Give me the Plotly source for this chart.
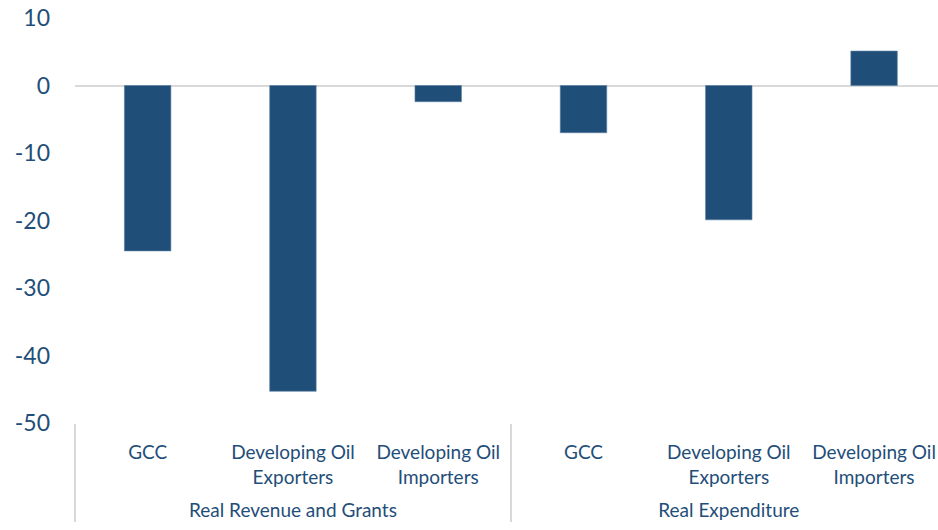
import plotly.graph_objects as go

# Data
groups = ["<br>Real Revenue and Grants"] * 3 + ["<br>Real Expenditure"] * 3
categories = [
    "GCC", "Developing Oil<br>Exporters", "Developing Oil<br>Importers",
    "GCC", "Developing Oil<br>Exporters", "Developing Oil<br>Importers",
]
values = [-24.5, -45.3, -2.4, -7.0, -19.9, 5.1]
y_ticks = [10, 0, -10, -20, -30, -40, -50]
y_tick_labels = ["10", "0", "-10", "-20", "-30", "-40", "-50"]

BAR_COLOR = "#1F4E79"
TEXT_COLOR = "#1F4E79"
FONT = "Lato, 'Open Sans', sans-serif"

fig = go.Figure(go.Bar(
    x=[groups, categories],
    y=values,
    marker=dict(color=BAR_COLOR, line=dict(color="#5B7FA3", width=0.6)),
    hoverinfo="y",
))

fig.update_layout(
    width=938,
    height=530,
    paper_bgcolor="white",
    plot_bgcolor="white",
    showlegend=False,
    bargap=0.68,
    margin=dict(l=75, r=0, t=18, b=107),
    font=dict(family=FONT, color=TEXT_COLOR, size=19),
)

fig.update_xaxes(
    type="multicategory",
    range=[-0.5, 5.44],
    automargin=False,
    showgrid=False,
    showline=False,
    ticks="",
    showdividers=True,
    dividercolor="#D9D9D9",
    dividerwidth=1.5,
    ticklabeloverflow="allow",
    ticklabelstandoff=16,
    tickfont=dict(family=FONT, color=TEXT_COLOR, size=19),
)

fig.update_yaxes(
    range=[-50, 10],
    tickvals=y_ticks,
    ticktext=y_tick_labels,
    automargin=False,
    showgrid=False,
    showline=False,
    zeroline=True,
    zerolinecolor="#D9D9D9",
    zerolinewidth=2,
    ticks="",
    ticklabeloverflow="allow",
    ticklabelstandoff=24,
    tickfont=dict(family=FONT, color=TEXT_COLOR, size=23),
)

# drop the default 8px body margin so the figure fills the window exactly
fig.write_html(
    "out.html",
    config={"displayModeBar": False},
    post_script="document.body.style.margin='0';document.body.style.overflow='hidden';",
)
